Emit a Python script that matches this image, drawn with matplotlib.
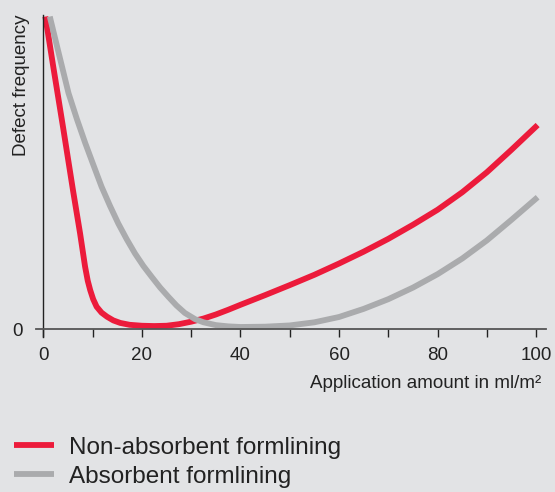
import matplotlib.pyplot as plt
import numpy as np

# values (arbitrary defect scale, 0-100)
red_x = [0.4, 2.0, 4.0, 6.0, 7.45, 8.46, 9.0, 9.5, 10.1, 10.8, 11.8, 12.9, 14.2, 15.6,
         17.5, 20, 22.5, 25, 27.5, 30, 32.5, 35, 37.5, 40, 45, 50, 55, 60, 65, 70, 75,
         80, 85, 90, 95, 100.3]
red_y = [100, 84, 64.5, 44.5, 30.6, 20, 15.5, 12.5, 9.6, 7.2, 5.3, 4.0, 2.8, 2.0,
         1.4, 1.1, 1.0, 1.1, 1.6, 2.4, 3.4, 4.7, 6.2, 7.8, 10.9, 14.1, 17.4, 21, 24.8,
         28.9, 33.4, 38.2, 43.8, 50.2, 57.4, 65.3]
gray_x = [1.3, 3, 5.1, 6.8, 8.5, 10.2, 11.8, 13.5, 15.2, 16.9, 18.6, 20.3, 22, 23.7,
          25.4, 27, 28.7, 30.8, 32.5, 35, 37.5, 40, 45, 50, 55, 60, 65, 70, 75, 80,
          85, 90, 95, 100.3]
gray_y = [100, 89, 75.5, 67.2, 59.5, 52.3, 45.6, 39.5, 33.8, 28.8, 24.2, 20.2, 16.7,
          13.3, 10.3, 7.6, 5.2, 3.2, 2.2, 1.3, 0.9, 0.7, 0.8, 1.2, 2.2, 3.9, 6.5, 9.6,
          13.3, 17.6, 22.6, 28.4, 35, 42.2]
labels = ['Non-absorbent formlining', 'Absorbent formlining']
xticks = np.arange(0, 101, 10)
xticklabels = [str(t) if t % 20 == 0 else '' for t in xticks]

bg = '#e2e3e5'
col = ['#ec1b3b', '#aaabad']
plt.rcParams['font.family'] = ['Liberation Sans', 'DejaVu Sans']

fig = plt.figure(figsize=(5.55, 4.92), dpi=100, facecolor=bg)
ax = fig.add_axes([36 / 555, 1 - 337 / 492, 510 / 555, 322 / 492], facecolor=bg)

ax.plot(red_x, red_y, color=col[0], lw=4.2, solid_capstyle='butt',
        solid_joinstyle='round', label=labels[0])
ax.plot(gray_x, gray_y, color=col[1], lw=4.2, solid_capstyle='butt',
        solid_joinstyle='round', label=labels[1])

ax.set_xlim(-1.5, 102)
ax.set_ylim(-2.5, 100.5)
for s in ['top', 'right']:
    ax.spines[s].set_visible(False)
ax.spines['bottom'].set_position(('data', 0))
ax.spines['left'].set_position(('data', 0))
ax.spines['bottom'].set_color('#555555')
ax.spines['bottom'].set_linewidth(1.3)
ax.spines['left'].set_color('#222222')
ax.spines['left'].set_linewidth(1.0)

ax.set_xticks(xticks)
ax.set_xticklabels(xticklabels)
ax.tick_params(axis='x', direction='out', length=5.5, width=1.0, color='#222222',
               pad=7, labelsize=13.5, labelcolor='#222222')
ax.set_yticks([0])
ax.set_yticklabels(['0'])
ax.tick_params(axis='y', length=0, pad=15, labelsize=13.5, labelcolor='#222222')

fig.text(13 / 555, 1 - 15 / 492, 'Defect frequency', rotation=90, ha='left', va='top',
         fontsize=13.5, color='#222222')
fig.text(541 / 555, 1 - 383 / 492, 'Application amount in ml/m²', ha='right', va='center',
         fontsize=13.5, color='#222222')

fig.legend(loc='upper left', bbox_to_anchor=(-8 / 555, 1 - 415 / 492), frameon=False,
           fontsize=17.5, handlelength=1.65, handletextpad=0.6, labelspacing=0.28,
           labelcolor='#222222')

fig.savefig('out.png', dpi=100, facecolor=bg)
